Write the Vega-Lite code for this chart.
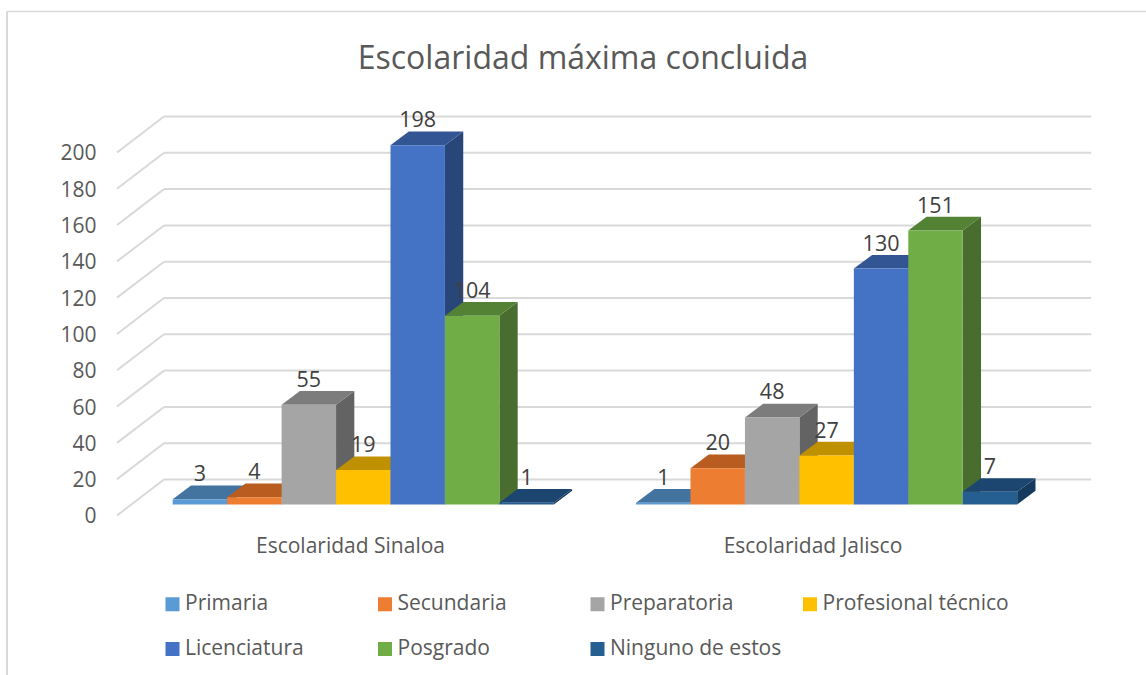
{
"$schema":"https://vega.github.io/schema/vega-lite/v6.json",
"width":1146,"height":675,"padding":0,"autosize":{"type":"none"},"background":"white",
"title":{"text":"Escolaridad máxima concluida","font":"Open Sans","fontSize":32,"fontWeight":"normal","color":"#595959","anchor":"middle","offset":-101,"dx":10,"baseline":"alphabetic"},
"config":{"view":{"stroke":null},"font":"Open Sans"},
"datasets":{"bars":[
{"grupo":"Escolaridad Sinaloa","nivel":"Primaria","valor":3},
{"grupo":"Escolaridad Sinaloa","nivel":"Secundaria","valor":4},
{"grupo":"Escolaridad Sinaloa","nivel":"Preparatoria","valor":55},
{"grupo":"Escolaridad Sinaloa","nivel":"Profesional técnico","valor":19},
{"grupo":"Escolaridad Sinaloa","nivel":"Licenciatura","valor":198},
{"grupo":"Escolaridad Sinaloa","nivel":"Posgrado","valor":104},
{"grupo":"Escolaridad Sinaloa","nivel":"Ninguno de estos","valor":1},
{"grupo":"Escolaridad Jalisco","nivel":"Primaria","valor":1},
{"grupo":"Escolaridad Jalisco","nivel":"Secundaria","valor":20},
{"grupo":"Escolaridad Jalisco","nivel":"Preparatoria","valor":48},
{"grupo":"Escolaridad Jalisco","nivel":"Profesional técnico","valor":27},
{"grupo":"Escolaridad Jalisco","nivel":"Licenciatura","valor":130},
{"grupo":"Escolaridad Jalisco","nivel":"Posgrado","valor":151},
{"grupo":"Escolaridad Jalisco","nivel":"Ninguno de estos","valor":7}
],
"ticks":[{"tick":0},{"tick":20},{"tick":40},{"tick":60},{"tick":80},{"tick":100},{"tick":120},{"tick":140},{"tick":160},{"tick":180},{"tick":200}]},
"encoding":{
"x":{"field":"x","type":"quantitative","scale":{"domain":[-3.172,17.876],"nice":false,"zero":false},"axis":{"title":null,"orient":"bottom","values":[3.256,11.75],"labelExpr":"datum.value<7?'Escolaridad Sinaloa':'Escolaridad Jalisco'","offset":-129,"labelPadding":0,"labelBaseline":"middle","domain":false,"ticks":false,"grid":false,"labelFont":"Open Sans","labelFontSize":21,"labelLimit":400,"labelColor":"#595959","labelOverlap":false}},
"y":{"field":"y","type":"quantitative","scale":{"domain":[-87.9,284],"nice":false,"zero":false},"axis":{"title":null,"values":[0,20,40,60,80,100,120,140,160,180,200],"offset":-96,"labelPadding":0,"labelOffset":1.5,"domain":false,"ticks":false,"grid":false,"labelFont":"Open Sans","labelFontSize":21,"labelColor":"#595959","labelOverlap":false,"labelBaseline":"middle"}}
},
"layer":[
{"data":{"values":[{"borde":"izquierdo"}]},"transform":[{"calculate":"-3.043","as":"x"},{"calculate":"-88","as":"y"}],"mark":{"type":"rule","stroke":"#d9d9d9","strokeWidth":2},"encoding":{"y2":{"datum":277.7}}},
{"data":{"values":[{"borde":"superior"}]},"transform":[{"calculate":"-3.043","as":"x"},{"calculate":"277.7","as":"y"}],"mark":{"type":"rule","stroke":"#d9d9d9","strokeWidth":1.5},"encoding":{"x2":{"datum":17.876}}},
{"data":{"name":"ticks"},"transform":[{"calculate":"-0.16","as":"x"},{"calculate":"datum.tick+19.8","as":"y"}],"mark":{"type":"rule","stroke":"#d9d9d9","strokeWidth":2},"encoding":{"x2":{"datum":16.87}}},
{"data":{"name":"ticks"},"transform":[{"calculate":"-1.023","as":"x"},{"calculate":"datum.tick","as":"y"},{"calculate":"datum.tick+19.8","as":"yb"}],"mark":{"type":"rule","stroke":"#d9d9d9","strokeWidth":2},"encoding":{"x2":{"datum":-0.16},"y2":{"field":"yb"}}},
{"data":{"name":"bars"},"transform":[
{"calculate":"indexof(['Primaria','Secundaria','Preparatoria','Profesional técnico','Licenciatura','Posgrado','Ninguno de estos'],datum.nivel)+(datum.grupo=='Escolaridad Jalisco'?8.51:0)","as":"pos"},
{"calculate":"[0,1]","as":"t"},{"flatten":["t"]},
{"calculate":"datum.pos+1+datum.t*0.336","as":"x"},
{"calculate":"6.0+datum.t*7.55","as":"y"},
{"calculate":"6.0+datum.valor+datum.t*7.55","as":"yt"}],
"mark":{"type":"area","orient":"vertical"},
"encoding":{"y2":{"field":"yt"},"detail":{"field":"grupo"},"color":{"field":"nivel","type":"nominal","legend":null,"scale":{"domain":["Primaria","Secundaria","Preparatoria","Profesional técnico","Licenciatura","Posgrado","Ninguno de estos"],"range":["#376092","#8f4b1d","#636363","#9c7500","#294678","#496d2e","#163a5d"]}}}},
{"data":{"name":"bars"},"transform":[
{"calculate":"indexof(['Primaria','Secundaria','Preparatoria','Profesional técnico','Licenciatura','Posgrado','Ninguno de estos'],datum.nivel)+(datum.grupo=='Escolaridad Jalisco'?8.51:0)","as":"pos"},
{"calculate":"[0,1]","as":"t"},{"flatten":["t"]},
{"calculate":"datum.pos+datum.t*0.336","as":"x"},
{"calculate":"datum.pos+1+datum.t*0.336","as":"xr"},
{"calculate":"6.0+datum.valor+datum.t*7.55","as":"y"}],
"mark":{"type":"area","orient":"horizontal"},
"encoding":{"x2":{"field":"xr"},"detail":{"field":"grupo"},"color":{"field":"nivel","type":"nominal","legend":null,"scale":{"domain":["Primaria","Secundaria","Preparatoria","Profesional técnico","Licenciatura","Posgrado","Ninguno de estos"],"range":["#43749f","#b85c20","#7c7c7c","#bf9000","#335593","#548234","#1c4670"]}}}},
{"data":{"name":"bars"},"transform":[
{"calculate":"indexof(['Primaria','Secundaria','Preparatoria','Profesional técnico','Licenciatura','Posgrado','Ninguno de estos'],datum.nivel)+(datum.grupo=='Escolaridad Jalisco'?8.51:0)","as":"pos"},
{"calculate":"datum.pos","as":"x"},{"calculate":"datum.pos+1","as":"xr"},
{"calculate":"6.0","as":"y"},{"calculate":"6.0+datum.valor","as":"yt"}],
"mark":{"type":"rect"},
"encoding":{"x2":{"field":"xr"},"y2":{"field":"yt"},"color":{"field":"nivel","type":"nominal","scale":{"domain":["Primaria","Secundaria","Preparatoria","Profesional técnico","Licenciatura","Posgrado","Ninguno de estos"],"range":["#5b9bd5","#ed7d31","#a5a5a5","#ffc000","#4472c4","#70ad47","#255e91"]},
"legend":{"title":null,"orient":"none","direction":"horizontal","legendX":162,"legendY":593.5,"columns":4,"symbolType":"square","symbolSize":196,"symbolStrokeWidth":0,"labelFont":"Open Sans","labelFontSize":21,"labelColor":"#595959","labelOffset":2,"labelLimit":300,"gridAlign":"all","columnPadding":2.5,"rowPadding":23}}}},
{"data":{"name":"bars"},"transform":[
{"calculate":"indexof(['Primaria','Secundaria','Preparatoria','Profesional técnico','Licenciatura','Posgrado','Ninguno de estos'],datum.nivel)+(datum.grupo=='Escolaridad Jalisco'?8.51:0)","as":"pos"},
{"calculate":"datum.pos+0.5","as":"x"},{"calculate":"6.0+datum.valor","as":"y"}],
"mark":{"type":"text","font":"Open Sans","fontSize":21.5,"color":"#404040","dy":-24,"baseline":"middle"},
"encoding":{"text":{"field":"valor","type":"quantitative"}}}
],
"resolve":{"scale":{"color":"independent"}}
}
